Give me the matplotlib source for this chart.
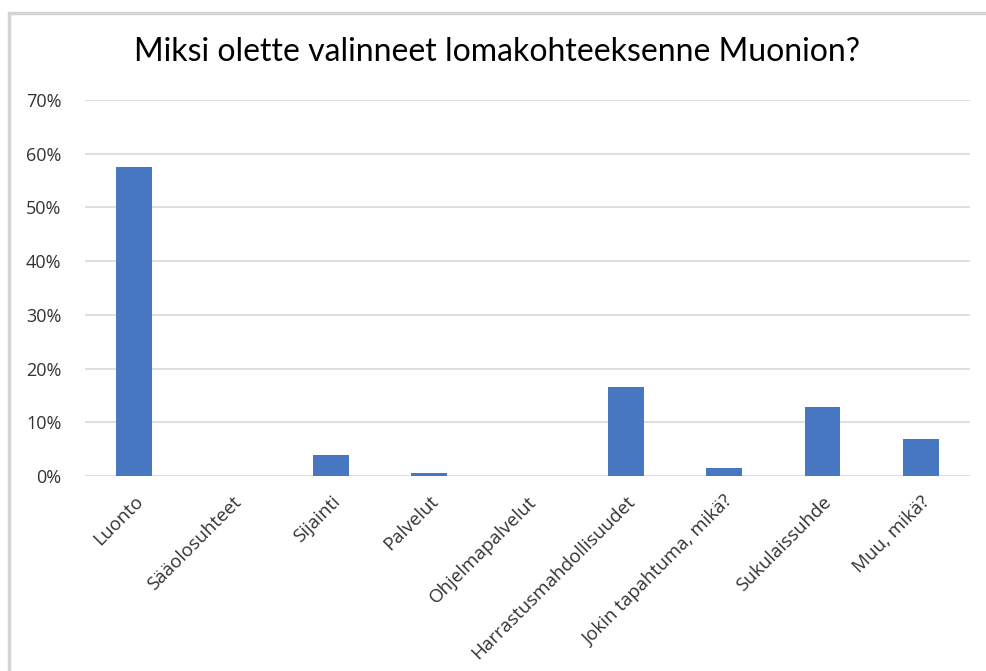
import matplotlib
matplotlib.use("Agg")
import matplotlib.pyplot as plt
from matplotlib.patches import Rectangle
from matplotlib.ticker import PercentFormatter

categories = ["Luonto", "Sääolosuhteet", "Sijainti", "Palvelut", "Ohjelmapalvelut",
              "Harrastusmahdollisuudet", "Jokin tapahtuma, mikä?", "Sukulaissuhde", "Muu, mikä?"]
shares = [57.6, 0.0, 3.9, 0.6, 0.0, 16.5, 1.4, 12.9, 6.8]
yticks = [0, 10, 20, 30, 40, 50, 60, 70]

plt.rcParams["font.family"] = ["Open Sans", "DejaVu Sans"]

fig = plt.figure(figsize=(9.86, 6.71), dpi=100)
ax = fig.add_axes([0.0862, 0.2906, 0.8976, 0.5604])

# grey frame around the chart (top and left edges visible)
W, H = 986, 671
fig.patches.append(Rectangle((9 / W, -0.1), 1.2, (H - 13) / H + 0.1,
                             transform=fig.transFigure, fill=False,
                             edgecolor="#d4d4d4", linewidth=2.5))

x = range(len(categories))
ax.bar(x, shares, width=0.36, color="#4777c1", zorder=3)

ax.set_ylim(0, 70)
ax.set_xlim(-0.5, len(categories) - 0.5)
ax.set_yticks(yticks)
ax.yaxis.set_major_formatter(PercentFormatter(decimals=0))
ax.grid(axis="y", color="#d9d9d9", linewidth=1.2, zorder=0)
for s in ax.spines.values():
    s.set_visible(False)
ax.tick_params(axis="both", length=0, labelsize=13, colors="#333333")
ax.tick_params(axis="y", pad=17)
ax.set_xticks(list(x))
ax.set_xticklabels(categories, rotation=45, ha="right", va="top",
                   rotation_mode="anchor", fontsize=13.5, color="#333333")
ax.tick_params(axis="x", pad=12)

fig.text(0.504, 0.923, "Miksi olette valinneet lomakohteeksenne Muonion?",
         ha="center", va="center", fontsize=23, color="black",
         family=["Lato", "DejaVu Sans"])

fig.savefig("out.png", dpi=100)
